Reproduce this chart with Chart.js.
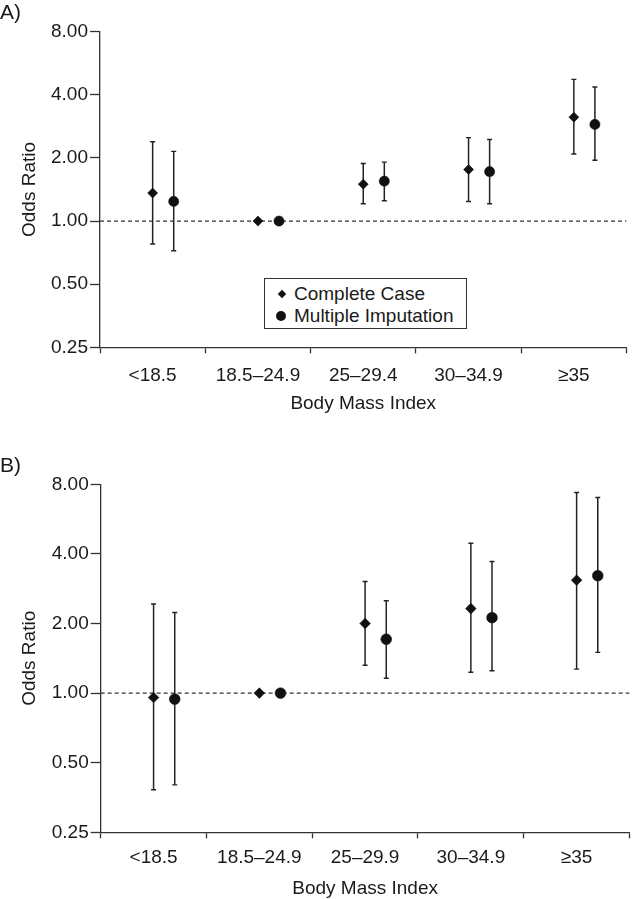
<!DOCTYPE html>
<html>
<head>
<meta charset="utf-8">
<script src="https://cdn.jsdelivr.net/npm/chart.js@4/dist/chart.umd.min.js"></script>
<style>
  html, body { margin: 0; padding: 0; background: #fff; }
  body { width: 638px; height: 899px; position: relative; overflow: hidden; font-family: "Liberation Sans", Arimo, Arial, sans-serif; color: #1a1a1a; }
  .panel { position: absolute; left: 0; width: 638px; }
  .plabel { position: absolute; left: 0; font-size: 21px; line-height: 22px; }
  #legend { position: absolute; left: 264px; top: 278px; width: 201px; height: 49px; border: 1.3px solid #333; background: #fff; }
  .lrow { position: absolute; left: 0; font-size: 19px; line-height: 22px; white-space: nowrap; }
  .mk { position: absolute; background: #111; }
</style>
</head>
<body>
<div class="panel" style="top:0;height:440px"><canvas id="cA" width="638" height="440"></canvas></div>
<div class="panel" style="top:440px;height:459px"><canvas id="cB" width="638" height="459"></canvas></div>
<div class="plabel" style="top:1px">A)</div>
<div class="plabel" style="top:454px">B)</div>
<div id="legend"></div>
<script>
// ---------- data ----------
const categoriesA = ['<18.5', '18.5–24.9', '25–29.4', '30–34.9', '≥35'];
const categoriesB = ['<18.5', '18.5–24.9', '25–29.9', '30–34.9', '≥35'];
const yTickValues = [0.25, 0.5, 1, 2, 4, 8];
const seriesNames = ['Complete Case', 'Multiple Imputation'];

// Panel A
const ccA    = [1.36, 1.00, 1.50, 1.76, 3.13];
const ccLoA  = [0.777, null, 1.21, 1.24, 2.09];
const ccHiA  = [2.39, null, 1.88, 2.50, 4.74];
const miA    = [1.24, 1.00, 1.55, 1.72, 2.89];
const miLoA  = [0.722, null, 1.25, 1.21, 1.95];
const miHiA  = [2.15, null, 1.91, 2.45, 4.36];

// Panel B
const ccB    = [0.957, 1.00, 2.00, 2.32, 3.08];
const ccLoB  = [0.382, null, 1.32, 1.23, 1.27];
const ccHiB  = [2.43, null, 3.04, 4.45, 7.37];
const miB    = [0.942, 1.00, 1.71, 2.12, 3.22];
const miLoB  = [0.401, null, 1.16, 1.25, 1.50];
const miHiB  = [2.23, null, 2.51, 3.71, 7.01];

const referenceOR = 1.0;

// ---------- chart ----------
Chart.defaults.font.family = '"Liberation Sans", Arimo, Arial, sans-serif';
Chart.defaults.font.size = 19;
Chart.defaults.color = '#1a1a1a';

const INK = '#111';
const AXIS = '#333';
const TXT = '#1a1a1a';

function pts(vals, off) {
  return vals.map((v, i) => ({ x: i + 0.5 + off, y: v }));
}
function bars(lo, hi, off) {
  const out = [];
  lo.forEach((l, i) => {
    if (l == null || hi[i] == null) return;
    out.push({ x: i + 0.5 + off, y: l }, { x: i + 0.5 + off, y: hi[i] }, { x: i + 0.5 + off, y: null });
  });
  return out;
}

function makeChart(id, cats, cc, ccLo, ccHi, mi, miLo, miHi, geo) {
  const off2 = 0.2;
  return new Chart(document.getElementById(id), {
    type: 'scatter',
    data: {
      datasets: [
        { label: 'ref', data: [{ x: 0, y: referenceOR }, { x: cats.length, y: referenceOR }], showLine: true,
          borderColor: AXIS, borderWidth: 1.2, borderDash: [4, 3], pointRadius: 0, order: 3 },
        { label: seriesNames[0] + ' CI', data: bars(ccLo, ccHi, 0), showLine: true, spanGaps: false,
          borderColor: '#222', borderWidth: 1.5, pointStyle: 'line', pointRadius: 2.5, pointBorderWidth: 1.4,
          pointBorderColor: '#222', order: 2 },
        { label: seriesNames[1] + ' CI', data: bars(miLo, miHi, off2), showLine: true, spanGaps: false,
          borderColor: '#222', borderWidth: 1.5, pointStyle: 'line', pointRadius: 2.5, pointBorderWidth: 1.4,
          pointBorderColor: '#222', order: 2 },
        { label: seriesNames[0], data: pts(cc, 0), pointStyle: 'rectRot', pointRadius: geo.dr,
          backgroundColor: INK, borderColor: INK, borderWidth: 0.6, order: 0 },
        { label: seriesNames[1], data: pts(mi, off2), pointStyle: 'circle', pointRadius: geo.cr,
          backgroundColor: INK, borderColor: INK, borderWidth: 0.5, order: 0 }
      ]
    },
    options: {
      responsive: false,
      animation: false,
      events: [],
      layout: { autoPadding: false, padding: { top: geo.top, right: geo.right, left: 0, bottom: 0 } },
      plugins: { legend: { display: false }, tooltip: { enabled: false } },
      elements: { line: { tension: 0 } },
      scales: {
        x: {
          type: 'linear', min: 0, max: cats.length,
          afterBuildTicks: (s) => {
            const t = [];
            for (let i = 0; i <= cats.length * 2; i++) t.push({ value: i / 2 });
            s.ticks = t;
          },
          afterFit: (s) => { s.height = geo.xh; },
          ticks: {
            autoSkip: false, maxRotation: 0, minRotation: 0, padding: geo.xpad, color: TXT,
            font: { size: 19 },
            callback: (v) => Number.isInteger(v) ? '' : cats[Math.floor(v)]
          },
          grid: {
            drawOnChartArea: false, drawTicks: true, tickLength: 6, tickWidth: 1.3,
            tickColor: (ctx) => (ctx.tick && Number.isInteger(ctx.tick.value)) ? AXIS : 'rgba(0,0,0,0)'
          },
          border: { display: true, color: AXIS, width: 1.3 },
          title: { display: true, text: 'Body Mass Index', color: TXT, font: { size: 19 },
                   padding: { top: 0, bottom: geo.xtpad } }
        },
        y: {
          type: 'logarithmic', min: yTickValues[0], max: yTickValues[yTickValues.length - 1],
          afterBuildTicks: (s) => { s.ticks = yTickValues.map(v => ({ value: v })); },
          afterFit: (s) => { s.width = geo.left; },
          ticks: { padding: 2, color: TXT, font: { size: 19 }, callback: (v) => Number(v).toFixed(2) },
          grid: { drawOnChartArea: false, drawTicks: true, tickLength: 10, tickWidth: 1.3, tickColor: AXIS },
          border: { display: true, color: AXIS, width: 1.3 },
          title: { display: true, text: 'Odds Ratio', color: TXT, font: { size: 19 },
                   padding: { top: 18, bottom: 0 } }
        }
      }
    }
  });
}

makeChart('cA', categoriesA, ccA, ccLoA, ccHiA, miA, miLoA, miHiA,
  { top: 31.7, right: 7.3, left: 100, xh: 440 - 347.3, xpad: 11.5, xtpad: 25, dr: 5, cr: 5.1 });
makeChart('cB', categoriesB, ccB, ccLoB, ccHiB, miB, miLoB, miHiB,
  { top: 44.3, right: 4, left: 100.7, xh: 459 - 392.3, xpad: 8.5, xtpad: -1.5, dr: 5.3, cr: 5.4 });

// ---------- legend (panel A) ----------
const lg = document.getElementById('legend');
const shapes = ['diamond', 'circle'];
seriesNames.forEach((name, i) => {
  const cy = i === 0 ? 15 : 36.7;
  const m = document.createElement('div');
  m.className = 'mk';
  if (shapes[i] === 'diamond') {
    Object.assign(m.style, { width: '6px', height: '6px', left: (17 - 3) + 'px', top: (cy - 3) + 'px', transform: 'rotate(45deg)' });
  } else {
    Object.assign(m.style, { width: '10px', height: '10px', left: (16 - 5) + 'px', top: (cy - 5) + 'px', borderRadius: '50%' });
  }
  lg.appendChild(m);
  const t = document.createElement('div');
  t.className = 'lrow';
  t.textContent = name;
  t.style.left = '29px';
  t.style.top = (cy - 11) + 'px';
  lg.appendChild(t);
});
</script>
</body>
</html>
